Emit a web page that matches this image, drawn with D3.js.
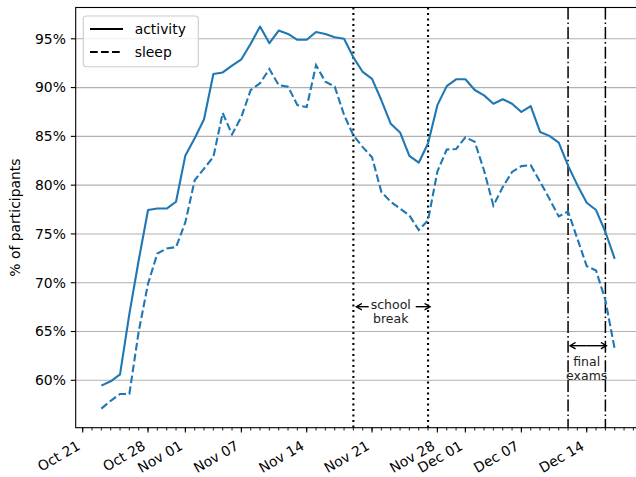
<!DOCTYPE html>
<html>
<head>
<meta charset="utf-8">
<script src="https://cdn.jsdelivr.net/npm/d3@7"></script>
<style>
body { margin: 0; background: #fff; }
svg { font-family: "DejaVu Sans", sans-serif; }
</style>
</head>
<body>
<svg width="636" height="477"></svg>
<script>
// daily data, Oct 23 .. Dec 17
var firstDay = "2019-10-23",
    lastDay = "2019-12-17";

var activity = [59.45, 59.9, 60.6, 66.8, 72.3, 77.45, 77.6, 77.6, 78.3, 83.05,
    84.8, 86.75, 91.4, 91.55, 92.25, 92.9, 94.5, 96.25, 94.55, 95.85,
    95.5, 94.9, 94.9, 95.7, 95.5, 95.15, 95.0, 93.1, 91.6, 90.9,
    88.7, 86.3, 85.4, 83.0, 82.3, 84.3, 88.2, 90.15, 90.85, 90.85,
    89.75, 89.2, 88.35, 88.8, 88.35, 87.5, 88.1, 85.45, 85.05, 84.35,
    82.0, 80.0, 78.2, 77.45, 75.2, 72.45];

var sleep = [57.1, 57.9, 58.6, 58.6, 65.0, 69.9, 73.0, 73.5, 73.65, 76.2,
    80.5, 81.7, 82.9, 87.4, 85.2, 87.0, 89.75, 90.45, 91.9, 90.25,
    90.1, 88.2, 88.0, 92.3, 90.6, 90.1, 87.2, 85.1, 83.9, 82.85,
    79.3, 78.3, 77.6, 76.9, 75.4, 76.4, 81.4, 83.65, 83.7, 84.9,
    84.45, 81.5, 77.9, 79.8, 81.35, 81.95, 82.05, 80.35, 78.6, 76.8,
    77.3, 74.5, 71.7, 71.25, 68.2, 63.2];

var xTickDates = ["2019-10-21", "2019-10-28", "2019-11-01", "2019-11-07", "2019-11-14",
    "2019-11-21", "2019-11-28", "2019-12-01", "2019-12-07", "2019-12-14"];
var yTicks = [60, 65, 70, 75, 80, 85, 90, 95];

var schoolBreak = ["2019-11-19", "2019-11-27"];
var finalExams = ["2019-12-12", "2019-12-16"];

var seriesNames = ["activity", "sleep"];

var parseDate = d3.utcParse("%Y-%m-%d");
var days = d3.utcDay.range(parseDate(firstDay), d3.utcDay.offset(parseDate(lastDay), 1));

var rows = days.map(function(d, i) {
    return {date: d, activity: activity[i], sleep: sleep[i]};
});

var plotL = 75.7, plotR = 640.4, plotT = 7.5, plotB = 427.7;
var blue = "#1f77b4";

// matplotlib-like 5% margins
var t0 = days[0].getTime(), t1 = days[days.length - 1].getTime();
var pad = (t1 - t0) * 0.05;
var x = d3.scaleUtc()
    .domain([new Date(t0 - pad), new Date(t1 + pad)])
    .range([plotL, plotR]);

var all = activity.concat(sleep);
var lo = d3.min(all), hi = d3.max(all), ypad = (hi - lo) * 0.05;
var y = d3.scaleLinear()
    .domain([lo - ypad, hi + ypad])
    .range([plotB, plotT]);

var svg = d3.select("svg");
svg.append("rect").attr("width", 636).attr("height", 477).attr("fill", "#fff");

// grid
svg.append("g")
    .selectAll("line")
    .data(yTicks)
    .enter().append("line")
    .attr("x1", plotL).attr("x2", plotR)
    .attr("y1", function(d) { return y(d); })
    .attr("y2", function(d) { return y(d); })
    .attr("stroke", "#b0b0b0")
    .attr("stroke-width", 1.1);

// event lines
function vline(dates, dash, w) {
    svg.append("g")
        .selectAll("line")
        .data(dates)
        .enter().append("line")
        .attr("x1", function(d) { return x(parseDate(d)); })
        .attr("x2", function(d) { return x(parseDate(d)); })
        .attr("y1", plotT).attr("y2", plotB)
        .attr("stroke", "#000")
        .attr("stroke-width", w)
        .attr("stroke-dasharray", dash);
}
vline(schoolBreak, "2.1,3.4", 2.1);
vline(finalExams, "12,3,1.6,3", 1.5);

// series
var line = function(key) {
    return d3.line()
        .x(function(d) { return x(d.date); })
        .y(function(d) { return y(d[key]); });
};

svg.append("path")
    .attr("d", line("activity")(rows))
    .attr("fill", "none")
    .attr("stroke", blue)
    .attr("stroke-width", 2.1)
    .attr("stroke-linejoin", "round");

svg.append("path")
    .attr("d", line("sleep")(rows))
    .attr("fill", "none")
    .attr("stroke", blue)
    .attr("stroke-width", 2.1)
    .attr("stroke-dasharray", "7.7,3.3");

// annotations
var defs = svg.append("defs");
defs.append("marker")
    .attr("id", "head")
    .attr("viewBox", "-6 -4 8 8")
    .attr("markerWidth", 8).attr("markerHeight", 8)
    .attr("markerUnits", "userSpaceOnUse")
    .attr("refX", 0).attr("refY", 0)
    .attr("orient", "auto")
    .append("path")
    .attr("d", "M-5.5,-3.2L0,0L-5.5,3.2")
    .attr("fill", "none")
    .attr("stroke", "#000")
    .attr("stroke-width", 1.4);

var sbA = x(parseDate(schoolBreak[0])), sbB = x(parseDate(schoolBreak[1]));
var sbMid = (sbA + sbB) / 2, arrowY = 306.7;
svg.append("line")
    .attr("x1", sbMid - 22).attr("x2", sbA + 3).attr("y1", arrowY).attr("y2", arrowY)
    .attr("stroke", "#000").attr("stroke-width", 1.4).attr("marker-end", "url(#head)");
svg.append("line")
    .attr("x1", sbMid + 25).attr("x2", sbB + 2).attr("y1", arrowY).attr("y2", arrowY)
    .attr("stroke", "#000").attr("stroke-width", 1.4).attr("marker-end", "url(#head)");
var sbText = svg.append("text")
    .attr("text-anchor", "middle")
    .attr("font-size", 12.5)
    .attr("fill", "#222");
sbText.append("tspan").attr("x", sbMid).attr("y", 308.5).text("school");
sbText.append("tspan").attr("x", sbMid).attr("y", 322.5).text("break");

var feA = x(parseDate(finalExams[0])), feB = x(parseDate(finalExams[1]));
var feMid = (feA + feB) / 2, feY = 345.7;
svg.append("line")
    .attr("x1", feMid).attr("x2", feA + 2).attr("y1", feY).attr("y2", feY)
    .attr("stroke", "#000").attr("stroke-width", 1.4).attr("marker-end", "url(#head)");
svg.append("line")
    .attr("x1", feMid).attr("x2", feB + 1).attr("y1", feY).attr("y2", feY)
    .attr("stroke", "#000").attr("stroke-width", 1.4).attr("marker-end", "url(#head)");
var feText = svg.append("text")
    .attr("text-anchor", "middle")
    .attr("font-size", 12.5)
    .attr("fill", "#222");
feText.append("tspan").attr("x", feMid).attr("y", 366).text("final");
feText.append("tspan").attr("x", feMid).attr("y", 380).text("exams");

// frame
svg.append("rect")
    .attr("x", plotL).attr("y", plotT)
    .attr("width", plotR - plotL).attr("height", plotB - plotT)
    .attr("fill", "none")
    .attr("stroke", "#000")
    .attr("stroke-width", 1.1);

// x axis: minor day ticks, major labelled ticks
var minor = d3.utcDay.range(x.domain()[0], x.domain()[1]);
svg.append("g")
    .selectAll("line")
    .data(minor)
    .enter().append("line")
    .attr("x1", function(d) { return x(d); })
    .attr("x2", function(d) { return x(d); })
    .attr("y1", plotB).attr("y2", plotB + 2.8)
    .attr("stroke", "#000").attr("stroke-width", 0.9);

var fmt = d3.utcFormat("%b %d");
var xt = svg.append("g")
    .selectAll("g")
    .data(xTickDates.map(parseDate))
    .enter().append("g")
    .attr("transform", function(d) { return "translate(" + x(d) + "," + plotB + ")"; });
xt.append("line")
    .attr("y2", 4.9)
    .attr("stroke", "#000").attr("stroke-width", 1.1);
xt.append("text")
    .attr("transform", "translate(-1.6,21) rotate(-30)")
    .attr("text-anchor", "end")
    .attr("font-size", 13.9)
    .text(function(d) { return fmt(d); });

// y axis
var yt = svg.append("g")
    .selectAll("g")
    .data(yTicks)
    .enter().append("g")
    .attr("transform", function(d) { return "translate(" + plotL + "," + y(d) + ")"; });
yt.append("line")
    .attr("x2", -4.9)
    .attr("stroke", "#000").attr("stroke-width", 1.1);
yt.append("text")
    .attr("x", -9.8)
    .attr("dy", "0.35em")
    .attr("text-anchor", "end")
    .attr("font-size", 13.9)
    .text(function(d) { return d + "%"; });

svg.append("text")
    .attr("transform", "translate(20," + ((plotT + plotB) / 2) + ") rotate(-90)")
    .attr("text-anchor", "middle")
    .attr("font-size", 13.9)
    .text("% of participants");

// legend
var lg = svg.append("g");
lg.append("rect")
    .attr("x", 83.3).attr("y", 16)
    .attr("width", 115).attr("height", 50.7)
    .attr("rx", 3)
    .attr("fill", "#fff").attr("fill-opacity", 0.8)
    .attr("stroke", "#cccccc").attr("stroke-width", 1.1);
var items = lg.selectAll("g")
    .data(seriesNames)
    .enter().append("g")
    .attr("transform", function(d, i) { return "translate(90," + (29 + i * 23) + ")"; });
items.append("line")
    .attr("x2", 33)
    .attr("stroke", "#000")
    .attr("stroke-width", 2.1)
    .attr("stroke-dasharray", function(d, i) { return i ? "7.7,3.3" : null; });
items.append("text")
    .attr("x", 44.7)
    .attr("dy", "0.35em")
    .attr("font-size", 13.9)
    .text(function(d) { return d; });
</script>
</body>
</html>
